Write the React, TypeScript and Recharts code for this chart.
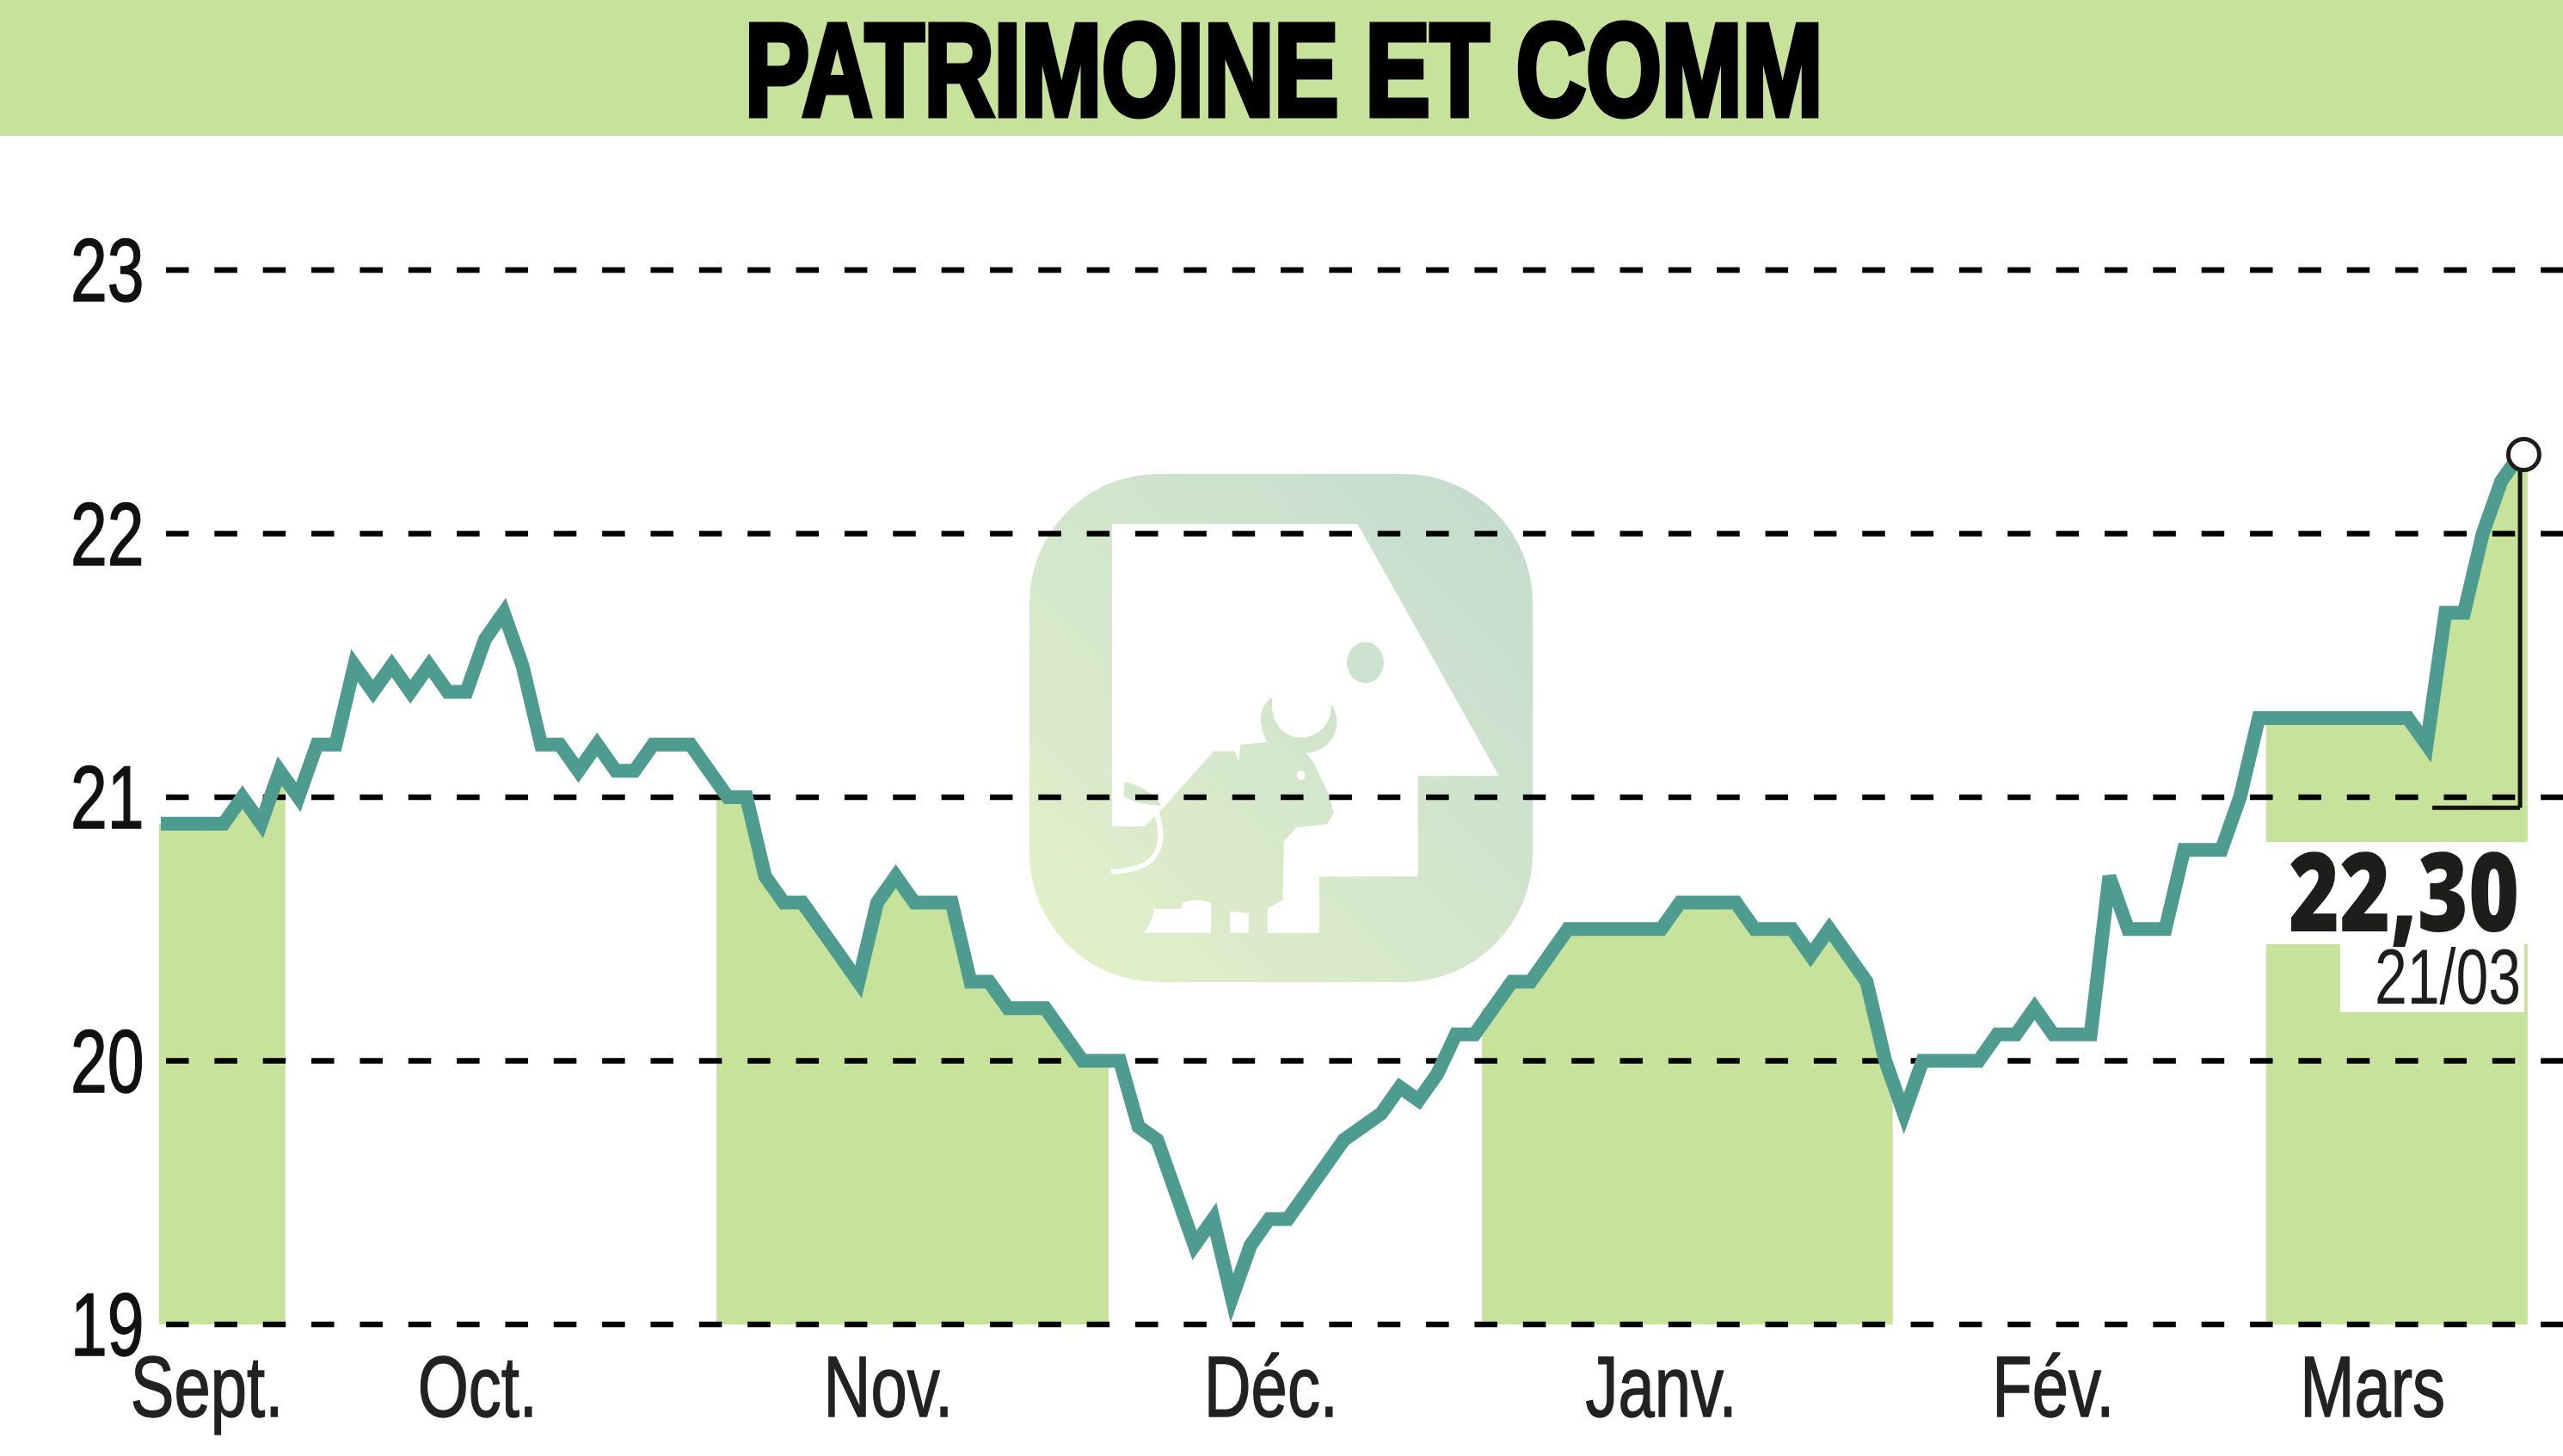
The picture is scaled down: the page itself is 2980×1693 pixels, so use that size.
import { ComposedChart, Line, Area, XAxis, YAxis, CartesianGrid, ReferenceLine, ReferenceDot } from 'recharts';

const prices = [
  20.9, 20.9, 20.9, 20.9, 21.0, 20.9, 21.1, 21.0, 21.2, 21.2,
  21.5, 21.4, 21.5, 21.4, 21.5, 21.4, 21.4, 21.6, 21.7, 21.5,
  21.2, 21.2, 21.1, 21.2, 21.1, 21.1, 21.2, 21.2, 21.2, 21.1,
  21.0, 21.0, 20.7, 20.6, 20.6, 20.5, 20.4, 20.3, 20.6, 20.7,
  20.6, 20.6, 20.6, 20.3, 20.3, 20.2, 20.2, 20.2, 20.1, 20.0,
  20.0, 20.0, 19.75, 19.7, 19.5, 19.3, 19.4, 19.1, 19.3, 19.4,
  19.4, 19.5, 19.6, 19.7, 19.75, 19.8, 19.9, 19.85, 19.95, 20.1,
  20.1, 20.2, 20.3, 20.3, 20.4, 20.5, 20.5, 20.5, 20.5, 20.5,
  20.5, 20.6, 20.6, 20.6, 20.6, 20.5, 20.5, 20.5, 20.4, 20.5,
  20.4, 20.3, 20.0, 19.8, 20.0, 20.0, 20.0, 20.0, 20.1, 20.1,
  20.2, 20.1, 20.1, 20.1, 20.7, 20.5, 20.5, 20.5, 20.8, 20.8,
  20.8, 21.0, 21.3, 21.3, 21.3, 21.3, 21.3, 21.3, 21.3, 21.3,
  21.3, 21.2, 21.7, 21.7, 22.0, 22.2, 22.3,
];

const priceTicks = [19, 20, 21, 22, 23];
const monthLabels = ['Sept.', 'Oct.', 'Nov.', 'Déc.', 'Janv.', 'Fév.', 'Mars'];
const monthTicks = [2.1, 16.6, 38.6, 59.1, 80, 101, 118.1];
const monthBands = [
  [-0.46, 6.3],
  [29.4, 50.4],
  [70.4, 92.4],
  [112.4, 126.4],
];

const TITLE = 'PATRIMOINE ET COMM';
const LAST_PRICE = '22,30';
const LAST_DATE = '21/03';

const GREEN = '#c7e29b';
const TEAL = '#4e9c90';
const FONT = '"Liberation Sans", sans-serif';

const lastIndex = prices.length - 1;
const chartData = prices.map((price, index) => ({ index, price }));

// one area per shaded month, closed off flat at the band edges
const bandRows = monthBands.map(([from, to]) => {
  const first = Math.min(Math.ceil(from), lastIndex);
  const last = Math.min(Math.floor(to), lastIndex);
  const inside = chartData.slice(Math.max(first, 0), last + 1);
  return [
    { index: from, price: prices[Math.max(first, 0)] },
    ...inside,
    { index: to, price: prices[last] },
  ];
});

function PriceTick({ y, payload }: any) {
  return (
    <text
      transform={`translate(82 ${y + 36}) scale(0.74 1)`}
      fontFamily={FONT}
      fontSize={104}
      fill="#111"
      stroke="#111"
      strokeWidth={1.5}
    >
      {payload.value}
    </text>
  );
}

function MonthTick({ x, index }: any) {
  return (
    <text
      transform={`translate(${x} 1647) scale(0.76 1)`}
      textAnchor="middle"
      fontFamily={FONT}
      fontSize={100}
      fill="#222"
      stroke="#222"
      strokeWidth={1.5}
    >
      {monthLabels[index]}
    </text>
  );
}

function Watermark() {
  return (
    <svg width={2980} height={1693} style={{ position: 'absolute', left: 0, top: 0 }}>
      <defs>
        <linearGradient id="wm" x1="0" y1="1" x2="1" y2="0">
          <stop offset="0" stopColor="#e4f1c8" />
          <stop offset="1" stopColor="#c2dbcf" />
        </linearGradient>
      </defs>
      <rect x={0} y={0} width={2980} height={158} fill={GREEN} />
      <rect x={1197} y={551} width={585} height={591} rx={150} ry={150} fill="url(#wm)" />
      <g transform="translate(1150 520) scale(0.4464 0.4209)">
        <path
          fill="#fff"
          d="M320 212 L960 212 L1328 908 L1117 908 L1117 1186 L860 1186 L860 1342 L725 1342 L725 1275 L765 1250 L768 1090 L800 1050 L880 1042 L898 1010 L885 960 L845 870 L825 845 C880 840 910 800 905 750 Q903 725 890 710 C895 760 860 802 812 802 C765 802 730 760 738 690 C715 705 705 735 708 760 C710 785 718 800 725 815 L655 822 L650 870 L640 840 L585 840 L450 1000 L405 1048 L320 1048 Z"
        />
        <path fill="#fff" d="M403 1342 Q425 1310 430 1275 L500 1275 L505 1258 Q540 1245 578 1258 L578 1342 Z" />
        <path fill="#fff" d="M628 1282 L676 1288 L676 1342 L628 1342 Z" />
        <ellipse cx={812} cy={906} rx={11} ry={13} fill="#fff" />
        <ellipse cx={980} cy={595} rx={48} ry={57} fill="#cde3cf" />
        <path fill="#d5e8cb" d="M352 925 Q410 935 450 990 Q390 990 352 965 Z" />
        <path fill="none" stroke="#fff" strokeWidth={14} d="M432 995 Q490 1170 318 1172" />
      </g>
    </svg>
  );
}

function Labels() {
  return (
    <svg width={2980} height={1693} style={{ position: 'absolute', left: 0, top: 0 }}>
      <text
        transform="translate(866 134) scale(0.741 1)"
        fontFamily={FONT}
        fontWeight="bold"
        fontSize={152}
        fill="#000"
        stroke="#000"
        strokeWidth={7}
      >
        {TITLE}
      </text>
      <rect x={2634} y={979} width={310} height={119} fill="#fff" />
      <rect x={2721} y={1098} width={214} height={79} fill="#fff" />
      <text
        transform="translate(2661 1083) scale(0.79 1)"
        fontFamily='"Open Sans", sans-serif'
        fontWeight={800}
        fontSize={128}
        fill="#1d1d1b"
      >
        {LAST_PRICE}
      </text>
      <text
        transform="translate(2761 1167) scale(0.755 1)"
        fontFamily={FONT}
        fontSize={90}
        fill="#1d1d1b"
      >
        {LAST_DATE}
      </text>
    </svg>
  );
}

export default function App() {
  return (
    <div style={{ position: 'absolute', left: 0, top: 0, width: 2980, height: 1693, overflow: 'hidden', background: '#fff' }}>
      <Watermark />
      <div style={{ position: 'absolute', left: 0, top: 0 }}>
        <ComposedChart
          width={2980}
          height={1693}
          data={chartData}
          margin={{ top: 314, right: 0, bottom: 0, left: 0 }}
        >
          <XAxis
            dataKey="index"
            type="number"
            domain={[-0.46, lastIndex + 2.3]}
            ticks={monthTicks}
            interval={0}
            height={153}
            axisLine={false}
            tickLine={false}
            tick={MonthTick}
          />
          <YAxis
            domain={[19, 23]}
            ticks={priceTicks}
            width={185}
            axisLine={false}
            tickLine={false}
            tick={PriceTick}
          />
          {bandRows.map((rows, i) => (
            <Area
              key={i}
              data={rows}
              dataKey="price"
              baseValue={19}
              type="linear"
              stroke="none"
              fill={GREEN}
              fillOpacity={1}
              dot={false}
              activeDot={false}
              isAnimationActive={false}
            />
          ))}
          <CartesianGrid
            vertical={false}
            stroke="#000"
            strokeWidth={6.5}
            strokeDasharray="0 8 26.5 21.85"
            zIndex={200}
          />
          <Line
            dataKey="price"
            type="linear"
            stroke={TEAL}
            strokeWidth={16}
            strokeLinecap="square"
            strokeLinejoin="miter"
            dot={false}
            activeDot={false}
            isAnimationActive={false}
          />
          <ReferenceLine
            segment={[{ x: lastIndex, y: 22.3 }, { x: lastIndex, y: 20.96 }]}
            stroke="#111"
            strokeWidth={5}
          />
          <ReferenceLine
            segment={[{ x: 121.3, y: 20.96 }, { x: lastIndex, y: 20.96 }]}
            stroke="#111"
            strokeWidth={5}
          />
          <ReferenceDot x={lastIndex + 0.2} y={22.3} r={18} fill="#fff" stroke="#1d1d1b" strokeWidth={5} />
        </ComposedChart>
      </div>
      <Labels />
    </div>
  );
}
